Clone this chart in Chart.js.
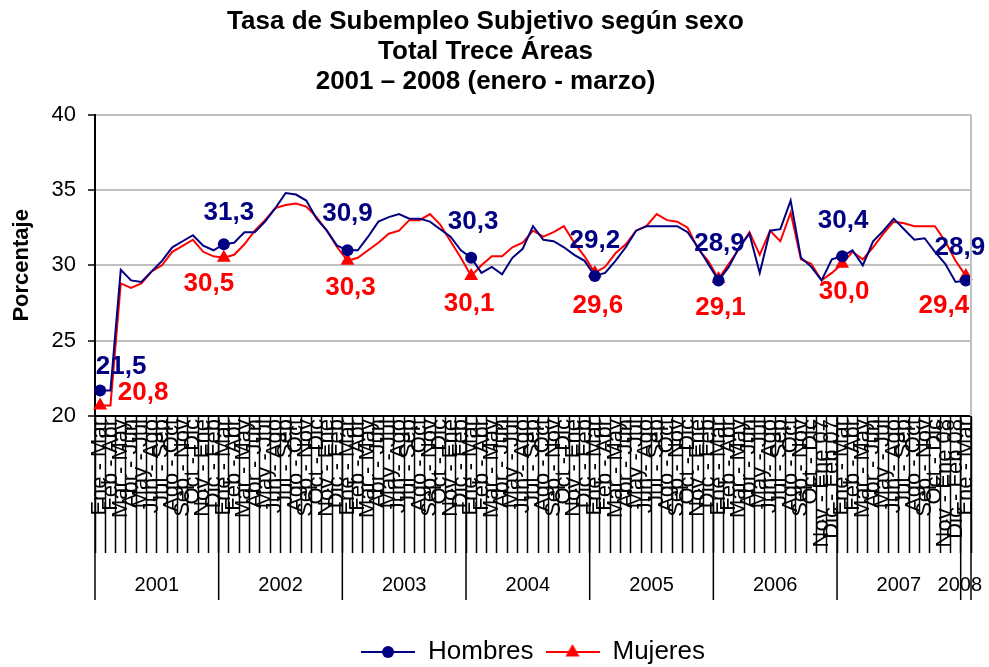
<!DOCTYPE html>
<html><head><meta charset="utf-8">
<script src="https://cdn.jsdelivr.net/npm/chart.js@4/dist/chart.umd.min.js"></script>
<style>html,body{margin:0;padding:0;background:#fff;}#wrap{width:989px;height:667px;}</style>
</head><body><div id="wrap"><canvas id="c" width="989" height="667"></canvas></div>
<script>
const periodos = ["Ene - Mar","Feb - Abr","Mar - May","Abr - Jun","May - Jul","Jun - Ago","Jul - Sep","Ago - Oct","Sep - Nov","Oct - Dic","Nov - Ene","Dic - Feb"];
const anios = ["2001","2002","2003","2004","2005","2006","2007","2008"];
const etiquetasLargas = {70:"Nov - Ene 07",71:"Dic - Feb 07",82:"Nov - Ene 08",83:"Dic - Feb 08"};

const hombres = [
 21.7,21.7,29.7,29.0,28.9,29.6,30.3,31.2,31.6,32.0,31.3,31.0,
 31.4,31.5,32.2,32.2,32.9,33.8,34.8,34.7,34.3,33.1,32.3,31.3,
 31.0,31.0,31.9,32.9,33.2,33.4,33.1,33.1,32.9,32.4,31.9,31.0,
 30.5,29.5,29.9,29.4,30.5,31.1,32.6,31.7,31.6,31.2,30.7,30.3,
 29.3,29.5,30.3,31.2,32.3,32.6,32.6,32.6,32.6,32.2,31.2,30.1,
 29.0,29.9,31.2,32.1,29.5,32.3,32.4,34.3,30.5,29.9,29.0,30.4,
 30.6,31.0,30.0,31.6,32.3,33.1,32.4,31.7,31.8,30.9,30.1,28.9,
 29.0];
const mujeres = [
 20.7,20.7,28.8,28.5,28.8,29.6,30.0,30.9,31.3,31.7,30.9,30.6,
 30.5,30.7,31.4,32.3,33.0,33.8,34.0,34.1,33.9,33.2,32.3,31.2,
 30.3,30.5,31.0,31.5,32.1,32.3,33.0,33.0,33.4,32.7,31.6,30.5,
 29.3,30.0,30.6,30.6,31.2,31.5,32.3,31.9,32.2,32.6,31.5,30.6,
 29.5,29.9,30.8,31.4,32.3,32.6,33.4,33.0,32.9,32.5,31.1,30.3,
 29.1,30.1,31.1,32.2,30.7,32.3,31.6,33.5,30.4,30.1,29.0,29.5,
 30.1,30.9,30.4,31.2,32.1,32.9,32.8,32.6,32.6,32.6,31.6,30.3,
 29.3];
const etiquetasHombres = ["21,5","31,3","30,9","30,3","29,2","28,9","30,4","28,9"];
const etiquetasMujeres = ["20,8","30,5","30,3","30,1","29,6","29,1","30,0","29,4"];
const ticksY = [20,25,30,35,40];

const categorias = hombres.map((_, i) => etiquetasLargas[i] || periodos[i % 12]);

const FONT = "'Liberation Sans', Arial, sans-serif";
const AZUL = "#000080", ROJO = "#ff0000";

// label offsets (style), per year marker
const despH = [[21,-24],[5,-31],[0,-36],[2,-36],[0,-35],[1,-37],[1,-35],[-6,-33]];
const despM = [[43,-13],[-15,26],[3,27],[-2,28],[3,33],[2,29],[2,28],[-22,30]];

function icono(color, estilo) {
  const cv = document.createElement('canvas');
  cv.width = 54; cv.height = 18;
  const g = cv.getContext('2d');
  g.strokeStyle = color; g.lineWidth = 2;
  g.beginPath(); g.moveTo(0, 9); g.lineTo(54, 9); g.stroke();
  g.fillStyle = color;
  g.beginPath();
  if (estilo === 'circle') { g.arc(27, 9, 6, 0, Math.PI * 2); }
  else { g.moveTo(27, 1); g.lineTo(34, 13.5); g.lineTo(20, 13.5); g.closePath(); }
  g.fill();
  return cv;
}
const iconos = [icono(AZUL, 'circle'), icono(ROJO, 'triangle')];

const plugExtras = {
  id: 'extras',
  afterDatasetsDraw(chart) {
    const ctx = chart.ctx;
    const etq = [etiquetasHombres, etiquetasMujeres];
    const desp = [despH, despM];
    const cols = [AZUL, ROJO];
    ctx.save();
    ctx.font = "bold 26px " + FONT;
    ctx.textAlign = 'center';
    ctx.textBaseline = 'middle';
    for (let d = 0; d < 2; d++) {
      const meta = chart.getDatasetMeta(d);
      ctx.fillStyle = cols[d];
      for (let k = 0; k < etq[d].length; k++) {
        const p = meta.data[k * 12];
        if (!p) continue;
        ctx.fillText(etq[d][k], p.x + desp[d][k][0], p.y + desp[d][k][1]);
      }
    }
    ctx.restore();
  },
  afterDraw(chart) {
    const ctx = chart.ctx;
    const xs = chart.scales.x;
    const ca = chart.chartArea;
    const half = (xs.getPixelForValue(1) - xs.getPixelForValue(0)) / 2;
    ctx.save();
    ctx.strokeStyle = '#c0c0c0'; ctx.lineWidth = 2;
    ctx.beginPath(); ctx.moveTo(ca.right, ca.top); ctx.lineTo(ca.right, ca.bottom); ctx.stroke();
    ctx.strokeStyle = '#000'; ctx.lineWidth = 1.5;
    ctx.fillStyle = '#000';
    ctx.font = "20px " + FONT;
    ctx.textAlign = 'center'; ctx.textBaseline = 'middle';
    const n = categorias.length;
    for (let k = 0; k < anios.length; k++) {
      const s = k * 12, e = Math.min(k * 12 + 11, n - 1);
      const x0 = xs.getPixelForValue(s) - half;
      const x1 = xs.getPixelForValue(e) + half;
      ctx.beginPath(); ctx.moveTo(x0, ca.bottom); ctx.lineTo(x0, 600); ctx.stroke();
      if (k === anios.length - 1) { ctx.beginPath(); ctx.moveTo(x1, ca.bottom); ctx.lineTo(x1, 600); ctx.stroke(); }
      const cx = k === anios.length - 1 ? (x0 + x1) / 2 - 6 : (x0 + x1) / 2;
      ctx.fillText(anios[k], cx, 585);
    }
    ctx.restore();
  }
};

new Chart(document.getElementById('c'), {
  type: 'line',
  data: {
    labels: categorias,
    datasets: [
      { label: 'Hombres', data: hombres, borderColor: AZUL, backgroundColor: AZUL, borderWidth: 2,
        pointStyle: 'circle', pointRadius: c => c.dataIndex % 12 === 0 ? 6 : 0, pointBorderWidth: 0, tension: 0 },
      { label: 'Mujeres', data: mujeres, borderColor: ROJO, backgroundColor: ROJO, borderWidth: 2,
        pointStyle: 'triangle', pointRadius: c => c.dataIndex % 12 === 0 ? 8 : 0, pointBorderWidth: 0, tension: 0 }
    ]
  },
  options: {
    responsive: false, animation: false, devicePixelRatio: 1,
    layout: { padding: { left: 0, right: 18, top: 0, bottom: -8 } },
    plugins: {
      title: { display: true, text: ["Tasa de Subempleo Subjetivo según sexo", "Total Trece Áreas", "2001 – 2008 (enero - marzo)"],
        color: '#000', font: { family: FONT, size: 26, weight: 'bold', lineHeight: 1.15 }, padding: { top: 7, bottom: 18 } },
      legend: { position: 'bottom', fullSize: false,
        labels: { usePointStyle: true, pointStyleWidth: 54, color: '#000', padding: 12,
          font: { family: FONT, size: 26 },
          generateLabels: chart => chart.data.datasets.map((ds, i) => ({
            text: ds.label, pointStyle: iconos[i], fillStyle: ds.borderColor, strokeStyle: ds.borderColor,
            lineWidth: 0, hidden: !chart.isDatasetVisible(i), datasetIndex: i, fontColor: '#000' })) } },
      tooltip: { enabled: false }
    },
    scales: {
      x: {
        offset: true,
        grid: { offset: true, drawOnChartArea: false, drawTicks: true, tickLength: 137, tickColor: '#000', tickWidth: 1.5 },
        border: { color: '#000', width: 2 },
        ticks: { autoSkip: false, minRotation: 90, maxRotation: 90, padding: -134, color: '#000',
          font: { family: FONT, size: 22 } },
        afterFit: s => { s.height = 211; }
      },
      y: {
        min: 20, max: 40,
        afterBuildTicks: s => { s.ticks = ticksY.map(v => ({ value: v })); },
        grid: { color: '#c0c0c0', lineWidth: 2, tickColor: '#000', tickLength: 7, tickWidth: 1.5 },
        border: { color: '#000', width: 2 },
        ticks: { color: '#000', padding: 12, font: { family: FONT, size: 22 } },
        title: { display: true, text: 'Porcentaje', color: '#000', font: { family: FONT, size: 22, weight: 'bold' }, padding: { top: 9, bottom: 0 } },
        afterFit: s => { s.width = 95; }
      }
    }
  },
  plugins: [plugExtras]
});
</script></body></html>
